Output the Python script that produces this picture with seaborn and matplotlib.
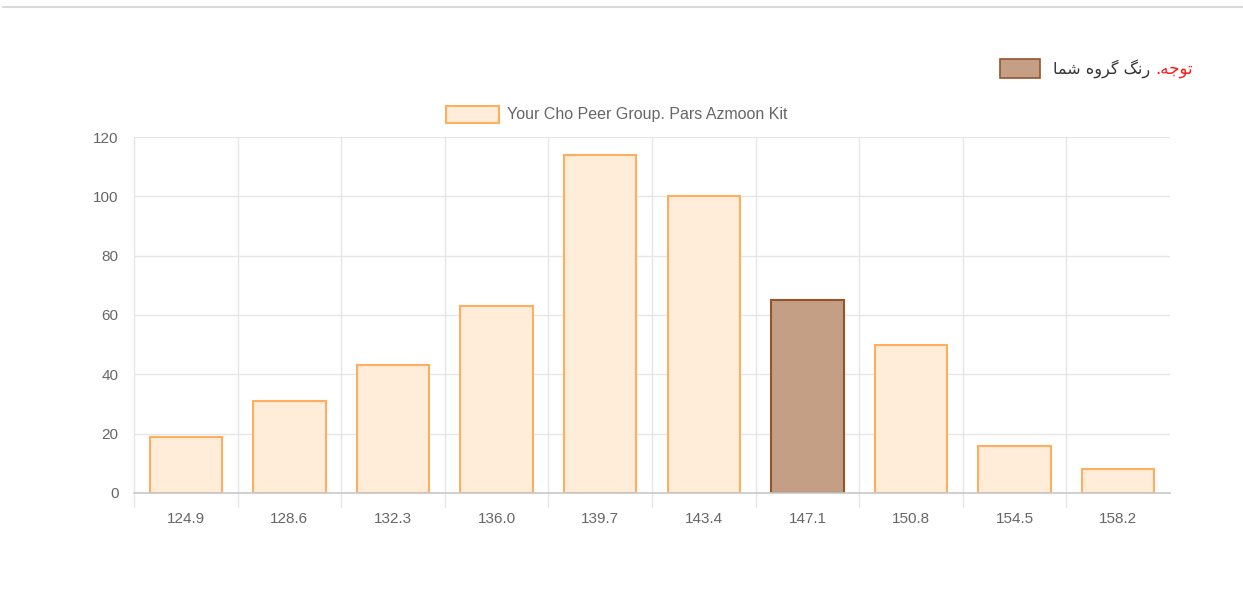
import matplotlib
matplotlib.use('Agg')
import matplotlib.pyplot as plt
from matplotlib.patches import Rectangle
from matplotlib.lines import Line2D
import seaborn as sns

# chart data
bins = ['124.9', '128.6', '132.3', '136.0', '139.7', '143.4', '147.1', '150.8', '154.5', '158.2']
counts = [19, 31, 43, 63, 114, 100, 65, 50, 16, 8]
your_group = '147.1'
legend_label = 'Your Cho Peer Group. Pars Azmoon Kit'
# Persian note, written in visual order with presentation forms (no shaping in matplotlib)
note_red = '.\uFEEA\uFE9F\uFEEE\uFE97'
note_gray = '\uFE8E\uFEE4\uFEB7 \uFEE9\uFEED\uFEAE\uFB94 \uFB93\uFEE7\uFEAD'

peer_fill, peer_edge = '#FFECD9', '#FFAD5E'
mine_fill, mine_edge = '#C49E85', '#94552B'
grid_c = '#E6E6E6'
text_c = '#666666'

sns.set_style('white')
plt.rcParams['font.family'] = ['Liberation Sans', 'DejaVu Sans']

W, H = 1243, 609
fig = plt.figure(figsize=(W / 100, H / 100), dpi=100)
ax = fig.add_axes([134 / W, 1 - 493 / H, (1170 - 134) / W, (493 - 137) / H])

palette = {b: (mine_fill if b == your_group else peer_fill) for b in bins}
sns.barplot(x=bins, y=counts, hue=bins, palette=palette, legend=False, width=0.7,
            saturation=1, ax=ax, zorder=3)
for patch, b in zip(ax.patches, bins):
    patch.set_edgecolor(mine_edge if b == your_group else peer_edge)
    patch.set_linewidth(1.5)

ax.set_xlim(-0.5, len(bins) - 0.5)
ax.set_ylim(0, 120)
ax.set_yticks(range(0, 121, 20))
ax.yaxis.grid(True, color=grid_c, linewidth=1, zorder=0)
ax.set_axisbelow(True)
for i in range(len(bins)):
    ax.axvline(i - 0.5, ymin=-14 / 356, ymax=1, color=grid_c, lw=1, clip_on=False, zorder=1)

for s in ['top', 'right', 'left']:
    ax.spines[s].set_visible(False)
ax.spines['bottom'].set_color('#C8C8C8')
ax.spines['bottom'].set_linewidth(1.2)
ax.spines['bottom'].set_zorder(4)

ax.tick_params(axis='y', length=8, color=grid_c, labelsize=11, labelcolor=text_c, pad=3)
ax.tick_params(axis='x', length=0, labelsize=11, labelcolor=text_c, pad=14)
ax.set_xlabel('')
ax.set_ylabel('')

# top separator line
fig.add_artist(Line2D([3 / W, 1], [1 - 7 / H, 1 - 7 / H], color='#D9D9D9', lw=1.5))

# dataset legend
fig.add_artist(Rectangle((446 / W, 1 - 123 / H), 53 / W, 17 / H, facecolor=peer_fill,
                         edgecolor=peer_edge, lw=1.5))
fig.text(507 / W, 1 - 114 / H, legend_label, color=text_c, fontsize=11.5, va='center', ha='left')

# "your group" note
fig.add_artist(Rectangle((1000 / W, 1 - 78 / H), 40 / W, 19 / H, facecolor=mine_fill,
                         edgecolor=mine_edge, lw=1.2))
red = fig.text(1193 / W, 1 - 69 / H, note_red, color='#FF1A1A', fontsize=12, va='center', ha='right',
               family='DejaVu Sans')
fig.canvas.draw()
red_left = red.get_window_extent().x0
fig.text((red_left - 5) / W, 1 - 69 / H, note_gray, color='#333333', fontsize=11.5, va='center',
         ha='right', family='DejaVu Sans')

fig.savefig('out.png', dpi=100)
